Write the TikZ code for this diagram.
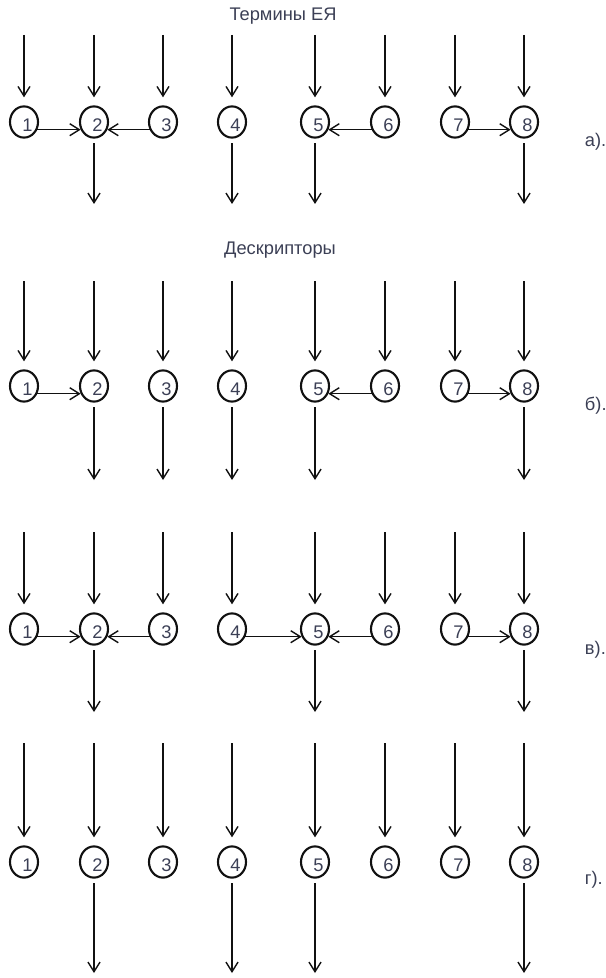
\documentclass[tikz,border=0pt]{standalone}
\usepackage{fontspec}
\setmainfont{Liberation Sans}
\usepackage{tikz}
\usetikzlibrary{arrows.meta, shapes.geometric}
\definecolor{ink}{HTML}{111111}
\definecolor{digitgray}{HTML}{3B3F55}

\begin{document}
\begin{tikzpicture}[x=0.025cm,y=-0.025cm,
  term/.style={ellipse, draw=ink, line width=1.5pt, minimum width=0.7cm, minimum height=0.78cm, inner sep=0pt,
    text=digitgray, font=\fontsize{13}{13}\selectfont, text height=0.47cm, text depth=0cm,
    execute at begin node={\kern0.17cm}},
  flow/.style={draw=ink, line width=1pt, -{Straight Barb[length=2.4mm,width=3mm]}},
  inflow/.style={flow, shorten >=0.2cm},
  outflow/.style={flow, shorten <=0.12cm},
  caption/.style={font=\fontsize{13}{13}\selectfont, text=digitgray}]
\useasboundingbox (0,0) rectangle (605,978);

% а) термины ЕЯ
\node[caption] (titlea) at (283,16) {Термины ЕЯ};
\foreach \x [count=\i] in {24,94,163,232,315,385,455,524} {
  \node[term] (a\i) at (\x,122) {\i};
  \coordinate (ina\i) at (\x,35);
  \coordinate (outa\i) at (\x,204);
  \draw[inflow] (ina\i) -- (a\i);
}
\foreach \i in {2,4,5,8} \draw[outflow] (a\i) -- (outa\i);
\draw[flow] (a1.-30) -- (a2.210);
\draw[flow] (a3.210) -- (a2.-30);
\draw[flow] (a6.210) -- (a5.-30);
\draw[flow] (a7.-30) -- (a8.210);
\node[caption, anchor=west] (labela) at (580,142) {а).};

% б) дескрипторы
\node[caption] (titleb) at (280,250) {Дескрипторы};
\foreach \x [count=\i] in {24,94,163,232,315,385,455,524} {
  \node[term] (b\i) at (\x,386) {\i};
  \coordinate (inb\i) at (\x,281);
  \coordinate (outb\i) at (\x,480);
  \draw[inflow] (inb\i) -- (b\i);
}
\foreach \i in {2,3,4,5,8} \draw[outflow] (b\i) -- (outb\i);
\draw[flow] (b1.-30) -- (b2.210);
\draw[flow] (b6.210) -- (b5.-30);
\draw[flow] (b7.-30) -- (b8.210);
\node[caption, anchor=west] (labelb) at (580,406) {б).};

% в)
\foreach \x [count=\i] in {24,94,163,232,315,385,455,524} {
  \node[term] (c\i) at (\x,629) {\i};
  \coordinate (inc\i) at (\x,532);
  \coordinate (outc\i) at (\x,712);
  \draw[inflow] (inc\i) -- (c\i);
}
\foreach \i in {2,5,8} \draw[outflow] (c\i) -- (outc\i);
\draw[flow] (c1.-30) -- (c2.210);
\draw[flow] (c3.210) -- (c2.-30);
\draw[flow] (c4.-30) -- (c5.210);
\draw[flow] (c6.210) -- (c5.-30);
\draw[flow] (c7.-30) -- (c8.210);
\node[caption, anchor=west] (labelc) at (580,650) {в).};

% г)
\foreach \x [count=\i] in {24,94,163,232,315,385,455,524} {
  \node[term] (d\i) at (\x,862) {\i};
  \coordinate (ind\i) at (\x,743);
  \coordinate (outd\i) at (\x,973);
  \draw[inflow] (ind\i) -- (d\i);
}
\foreach \i in {2,4,5,8} \draw[outflow] (d\i) -- (outd\i);
\node[caption, anchor=west] (labeld) at (580,880) {г).};
\end{tikzpicture}
\end{document}
